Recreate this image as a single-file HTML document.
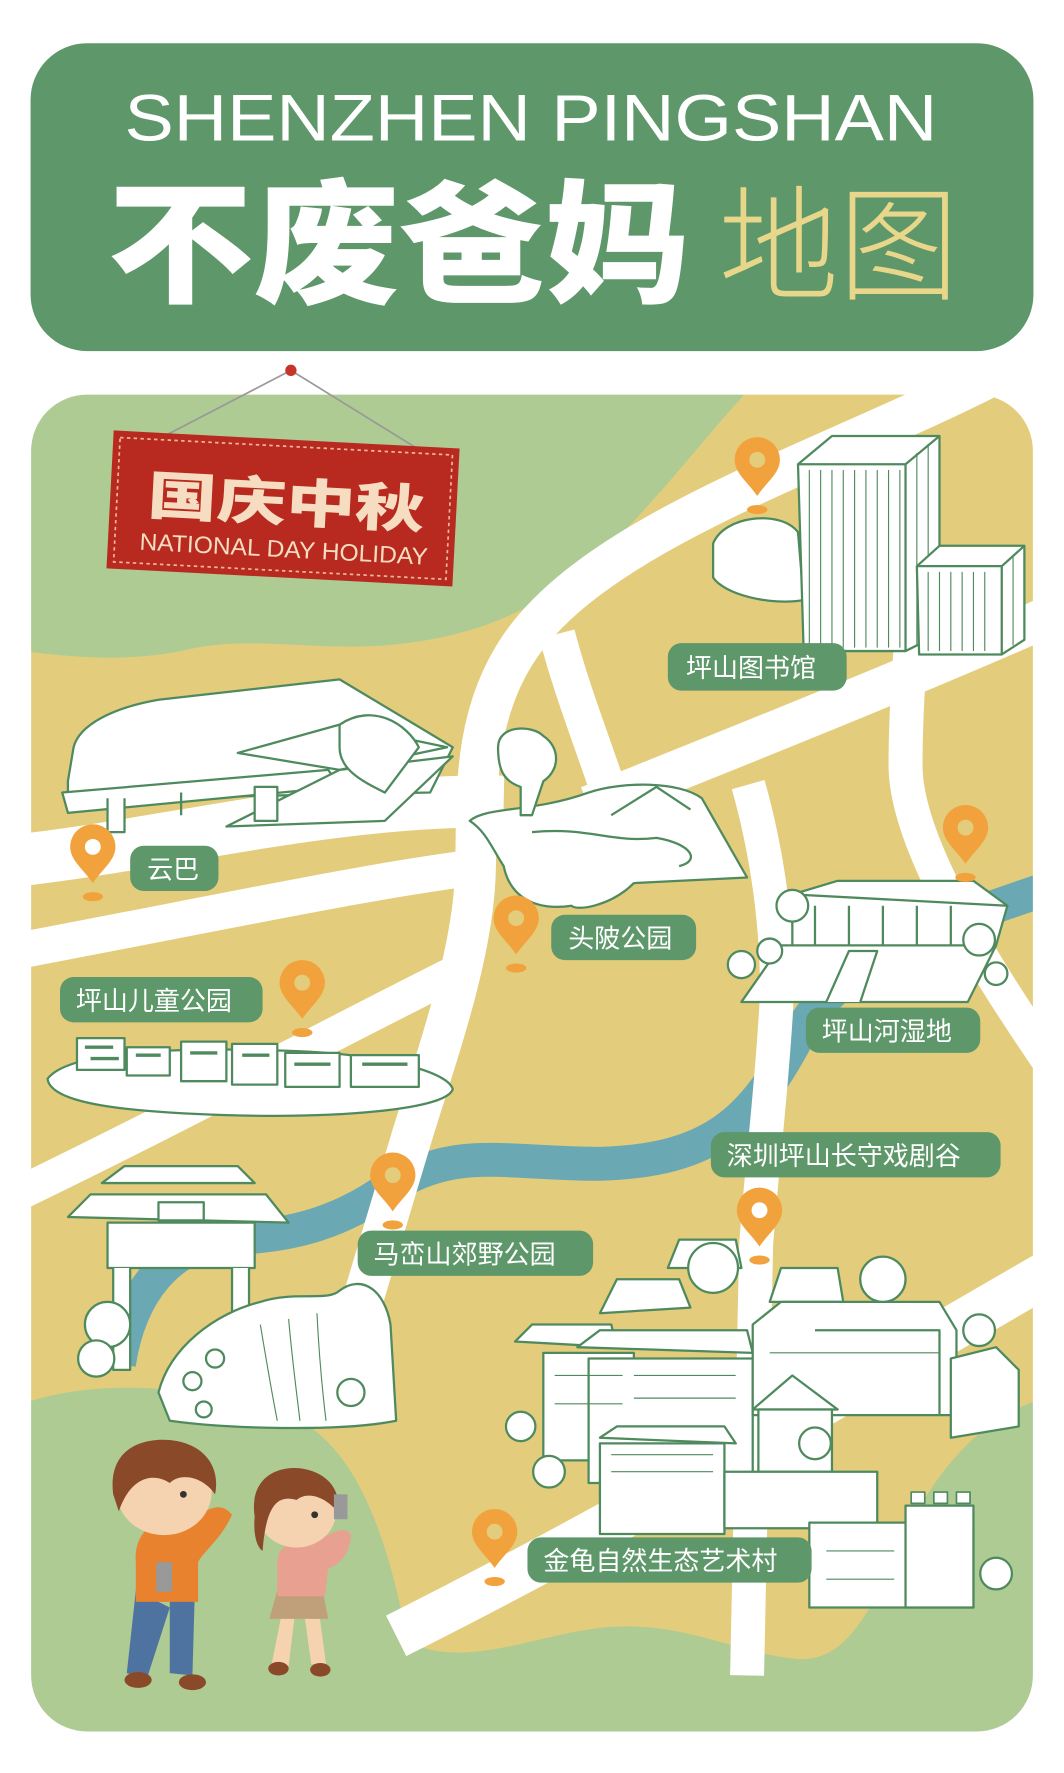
<!DOCTYPE html>
<html><head><meta charset="utf-8"><style>
html,body{margin:0;padding:0;background:#fff;}
svg{display:block;}
text{font-family:"Liberation Sans","Noto Sans CJK SC",sans-serif;}
</style></head><body>
<svg width="1064" height="1773" viewBox="0 0 940 1566" xmlns="http://www.w3.org/2000/svg">
<defs>
<clipPath id="panel"><rect x="27" y="348" width="886" height="1182" rx="50"/></clipPath>
</defs>
<rect width="940" height="1566" fill="#fff"/>
<!-- Header -->
<rect x="27" y="38" width="886" height="272" rx="50" fill="#5e976a"/>
<text x="110" y="124" font-size="58" fill="#fff" textLength="718" lengthAdjust="spacingAndGlyphs" style="font-weight:100">SHENZHEN  PINGSHAN</text>
<text x="95" y="258" font-size="118" fill="#fff" font-weight="900" textLength="515" lengthAdjust="spacingAndGlyphs" style="font-family:'Noto Sans CJK SC',sans-serif">不废爸妈</text>
<text x="635" y="256" font-size="110" fill="#e8d68a" textLength="212" lengthAdjust="spacingAndGlyphs" style="font-family:'Noto Sans CJK SC',sans-serif;font-weight:300">地图</text>

<!-- Map panel -->
<g clip-path="url(#panel)">
<rect x="27" y="348" width="886" height="1182" fill="#e3cd7c"/>
<!-- green areas -->
<path d="M20 340 L665 340 C610 400 560 470 500 515 C450 550 400 565 340 570 C270 575 220 560 160 575 C110 585 60 580 20 575 Z" fill="#aecb93"/>
<path d="M20 1240 C90 1215 190 1225 265 1255 C320 1285 345 1370 360 1450 C410 1475 470 1445 530 1438 C600 1430 650 1460 700 1465 C740 1470 760 1440 790 1380 C820 1300 870 1250 920 1236 L920 1540 L20 1540 Z" fill="#aecb93"/>
<path d="M20 1470 C200 1480 500 1470 920 1480 L920 1540 L20 1540 Z" fill="#aecb93"/>
<!-- river -->
<path d="M925 785 C820 820 740 850 705 915 C665 990 630 1025 530 1028 C440 1028 400 1010 335 1055 C285 1088 240 1092 200 1094 C150 1100 115 1140 105 1205" fill="none" stroke="#6aa8b3" stroke-width="30"/>
<!-- roads -->
<g fill="none" stroke="#fff" stroke-linecap="butt">
<path d="M870 335 C720 410 530 470 460 570 C415 635 422 710 420 770 C418 840 390 920 365 1000 L320 1150" stroke-width="36"/>
<path d="M15 760 C150 745 300 705 445 708" stroke-width="46"/>
<path d="M15 840 C200 805 340 775 430 765" stroke-width="32"/>
<path d="M15 1055 C150 990 300 910 400 860" stroke-width="30"/>
<path d="M492 560 C505 610 525 660 538 700" stroke-width="32"/>
<path d="M520 712 C650 660 800 600 925 545" stroke-width="36"/>
<path d="M661 693 C680 760 690 840 685 902 C680 980 672 1040 668 1100 L660 1480" stroke-width="30"/>
<path d="M808 520 C805 570 800 620 800 676 C800 740 860 840 925 935" stroke-width="30"/>
<path d="M925 1125 C760 1220 560 1340 350 1445" stroke-width="40"/>
</g>
</g>
<rect x="27" y="348" width="886" height="1182" rx="50" fill="none" stroke="#fff" stroke-width="1"/>

<!-- hanging sign -->
<line x1="257" y1="327" x2="130" y2="393" stroke="#999" stroke-width="1.5"/>
<line x1="257" y1="327" x2="375" y2="400" stroke="#999" stroke-width="1.5"/>
<circle cx="257" cy="327" r="5" fill="#c8332a"/>
<g transform="rotate(3 250 450)">
<rect x="97" y="388" width="306" height="122" fill="#b82a1f"/>
<rect x="103" y="394" width="294" height="110" fill="none" stroke="#f0b8a0" stroke-width="1.5" stroke-dasharray="3 3"/>
<text x="130" y="460" font-size="46" font-weight="900" fill="#f6dcc0" textLength="245" lengthAdjust="spacingAndGlyphs" style="font-family:'Noto Sans CJK SC',sans-serif">国庆中秋</text>
<text x="125" y="492" font-size="21" fill="#f6dcc0" textLength="255" lengthAdjust="spacingAndGlyphs">NATIONAL DAY HOLIDAY</text>
</g>

<!-- Illustrations (simplified line art) -->
<g fill="#fff" stroke="#4f8a5e" stroke-width="2" stroke-linejoin="round">
<!-- library -->
<path d="M630 480 C640 455 690 450 705 470 L710 530 C680 535 640 525 630 510 Z"/>
<path d="M705 410 L735 385 L830 385 L830 560 L800 575 L710 575 Z"/>
<path d="M705 410 L800 410 L800 575" fill="none"/>
<path d="M800 410 L830 385" fill="none"/>
<g stroke-width="1" fill="none">
<path d="M715 415 V572 M725 415 V572 M735 415 V572 M745 415 V572 M755 415 V572 M765 415 V572 M775 415 V572 M785 415 V572 M795 415 V572 M810 400 V570 M820 392 V565"/>
</g>
<path d="M810 500 L830 482 L905 482 L905 565 L885 578 L812 578 Z"/>
<path d="M810 500 L885 500 L885 578 M885 500 L905 482" fill="none"/>
<g stroke-width="1" fill="none"><path d="M820 505 V575 M830 505 V575 M840 505 V575 M850 505 V575 M860 505 V575 M870 505 V575 M895 492 V570"/></g>
<!-- monorail -->
<path d="M60 690 L65 660 C70 640 100 625 140 618 L300 600 L400 660 L380 700 L120 705 L60 705 Z"/>
<path d="M55 700 L290 680 L300 695 L60 718 Z"/>
<path d="M95 705 L95 735 L110 735 L110 705 M160 700 L160 720"/>
<path d="M210 665 L300 640 L395 660 L300 680 Z"/>
<path d="M200 730 L300 680 L400 668 L340 725 Z"/>
<path d="M225 695 H245 V725 H225 Z"/>
<path d="M300 640 C330 620 360 640 370 660 L340 700 C320 690 300 680 300 660 Z"/>
<!-- toupi park -->
<path d="M415 725 C430 712 470 718 520 700 C550 690 600 690 620 705 L660 775 L560 780 C540 800 510 805 505 800 C470 805 450 790 445 765 C435 750 430 735 415 725 Z"/>
<path d="M440 660 C440 640 470 640 480 650 C495 660 495 680 480 690 L470 720 L460 720 L460 695 C445 690 440 680 440 660 Z"/>
<path d="M470 735 C520 730 540 745 580 740 C610 745 620 760 600 765" fill="none"/>
<path d="M540 720 L580 695 L610 715" fill="none"/>
<!-- wetland building -->
<path d="M655 885 L690 835 L880 835 L855 885 Z"/>
<path d="M700 790 L740 778 L860 778 L890 800 L880 835 L700 835 Z"/>
<path d="M700 790 L890 800" fill="none"/>
<path d="M720 800 V835 M750 800 V835 M780 800 V835 M810 800 V835 M840 800 V835" fill="none"/>
<path d="M730 885 L750 840 L775 840 L760 885" />
<circle cx="700" cy="800" r="14"/><circle cx="655" cy="852" r="12"/><circle cx="680" cy="840" r="11"/><circle cx="865" cy="830" r="14"/><circle cx="880" cy="860" r="10"/>
<!-- children's park -->
<path d="M42 953 C60 928 160 925 250 928 C330 930 395 945 400 962 C395 980 300 988 200 985 C110 982 45 975 42 953 Z"/>
<path d="M68 917 H110 V945 H68 Z M112 925 H150 V950 H112 Z M160 920 H200 V955 H160 Z M205 922 H245 V958 H205 Z M252 930 H300 V960 H252 Z M310 932 H370 V960 H310 Z"/>
<path d="M75 925 H100 M80 935 H105 M120 932 H142 M168 930 H192 M214 932 H238 M260 940 H292 M320 940 H360" fill="none" stroke-width="3"/>
<!-- gate -->
<path d="M60 1075 L80 1055 L235 1055 L255 1080 Z"/>
<path d="M90 1045 L110 1030 L210 1030 L225 1045 Z"/>
<path d="M95 1080 H225 V1120 H95 Z"/>
<path d="M100 1120 V1210 H115 V1120 M205 1120 V1210 H220 V1120"/>
<rect x="140" y="1062" width="40" height="16" />
<circle cx="95" cy="1170" r="20"/><circle cx="85" cy="1200" r="16"/>
<!-- waterfall -->
<path d="M140 1230 C150 1190 190 1160 230 1150 C260 1140 290 1150 300 1140 C320 1125 340 1140 345 1170 L350 1255 C300 1265 200 1262 150 1255 Z"/>
<path d="M230 1170 C235 1200 240 1230 245 1255 M255 1165 C258 1200 262 1230 265 1255 M280 1160 C282 1200 285 1230 288 1255" fill="none" stroke-width="1"/>
<circle cx="170" cy="1220" r="8"/><circle cx="190" cy="1200" r="8"/><circle cx="310" cy="1230" r="12"/><circle cx="180" cy="1245" r="7"/>
<!-- village -->
<path d="M530 1160 L545 1130 L600 1130 L610 1155 Z M590 1120 L600 1095 L650 1095 L655 1120 Z M680 1150 L690 1120 L740 1120 L745 1150 Z"/>
<path d="M455 1185 L470 1170 L540 1170 L545 1190 Z"/>
<path d="M480 1195 H560 V1290 H480 Z"/>
<path d="M510 1190 L530 1175 L660 1175 L665 1195 Z"/>
<path d="M520 1200 H665 V1310 H520 Z"/>
<path d="M665 1170 L690 1150 L830 1150 L845 1175 L845 1250 L665 1250 Z"/>
<path d="M720 1175 H830 V1250"/>
<path d="M840 1200 L880 1190 L900 1210 L900 1260 L840 1270 Z"/>
<path d="M665 1245 L700 1215 L740 1245 Z"/>
<path d="M670 1245 H735 V1300 H670 Z"/>
<path d="M530 1270 L545 1260 L640 1260 L650 1275 Z"/>
<path d="M530 1275 H640 V1355 H530 Z"/>
<path d="M640 1300 H775 V1350 H640 Z"/>
<path d="M715 1345 H860 V1420 H715 Z"/>
<path d="M800 1330 H860 V1420 H800 Z"/>
<path d="M805 1318 h12 v10 h-12 z M825 1318 h12 v10 h-12 z M845 1318 h12 v10 h-12 z" stroke-width="1.5"/>
<path d="M540 1285 H630 M540 1300 H630 M560 1215 H650 M560 1235 H650 M490 1215 H550 M490 1240 H550 M680 1195 H830 M730 1370 H790 M730 1395 H790" fill="none" stroke-width="1"/>
<circle cx="630" cy="1120" r="22"/><circle cx="780" cy="1130" r="20"/><circle cx="460" cy="1260" r="13"/><circle cx="485" cy="1300" r="14"/><circle cx="720" cy="1275" r="14"/><circle cx="880" cy="1390" r="14"/><circle cx="865" cy="1175" r="14"/>
</g>

<!-- Kids -->
<g>
<!-- boy -->
<path d="M120 1405 L112 1478 L130 1482 L150 1420 Z" fill="#4f73a0"/>
<path d="M150 1405 L150 1478 L170 1480 L172 1410 Z" fill="#4f73a0"/>
<ellipse cx="122" cy="1484" rx="12" ry="7" fill="#8a4a2a"/><ellipse cx="170" cy="1486" rx="12" ry="7" fill="#8a4a2a"/>
<path d="M120 1380 C118 1355 135 1340 160 1340 C175 1345 190 1320 205 1338 C195 1360 180 1370 175 1380 L175 1415 L120 1415 Z" fill="#e8822e"/>
<rect x="138" y="1380" width="14" height="26" fill="#999"/>
<ellipse cx="145" cy="1318" rx="42" ry="38" fill="#f6d3b0"/>
<path d="M100 1320 C95 1280 125 1270 150 1272 C180 1275 195 1295 190 1320 C180 1305 160 1300 150 1310 C135 1300 115 1305 105 1335 Z" fill="#8a4a2a"/>
<circle cx="162" cy="1320" r="3" fill="#333"/>
<!-- girl -->
<path d="M250 1420 L240 1470 L255 1472 L260 1430 Z M268 1420 L275 1470 L288 1470 L282 1425 Z" fill="#f6d3b0"/>
<ellipse cx="246" cy="1474" rx="9" ry="6" fill="#8a4a2a"/><ellipse cx="283" cy="1475" rx="9" ry="6" fill="#8a4a2a"/>
<path d="M245 1405 L238 1430 L290 1430 L285 1405 Z" fill="#c0a07a"/>
<path d="M245 1380 C245 1365 260 1360 275 1360 C290 1360 300 1345 310 1355 C310 1375 295 1385 290 1385 L287 1410 L245 1410 Z" fill="#e8a090"/>
<ellipse cx="262" cy="1335" rx="35" ry="32" fill="#f6d3b0"/>
<path d="M225 1340 C220 1305 245 1295 265 1297 C290 1300 302 1318 298 1335 C285 1320 270 1318 262 1325 C245 1320 235 1330 232 1370 C225 1365 224 1350 225 1340 Z" fill="#8a4a2a"/>
<rect x="295" y="1320" width="12" height="22" fill="#999"/>
<circle cx="278" cy="1338" r="3" fill="#333"/>
</g>

<!-- Pins -->
<g fill="#f2a23c">
<g transform="translate(669,410)"><path d="M0 28 C-8 16 -20 8 -20 -4 A20 20 0 1 1 20 -4 C20 8 8 16 0 28 Z"/><circle cx="0" cy="-4" r="7" fill="#e3cd7c"/><ellipse cx="0" cy="40" rx="9" ry="4"/></g>
<g transform="translate(82,752)"><path d="M0 28 C-8 16 -20 8 -20 -4 A20 20 0 1 1 20 -4 C20 8 8 16 0 28 Z"/><circle cx="0" cy="-4" r="7" fill="#fff"/><ellipse cx="0" cy="40" rx="9" ry="4"/></g>
<g transform="translate(456,815)"><path d="M0 28 C-8 16 -20 8 -20 -4 A20 20 0 1 1 20 -4 C20 8 8 16 0 28 Z"/><circle cx="0" cy="-4" r="7" fill="#e3cd7c"/><ellipse cx="0" cy="40" rx="9" ry="4"/></g>
<g transform="translate(267,872)"><path d="M0 28 C-8 16 -20 8 -20 -4 A20 20 0 1 1 20 -4 C20 8 8 16 0 28 Z"/><circle cx="0" cy="-4" r="7" fill="#e3cd7c"/><ellipse cx="0" cy="40" rx="9" ry="4"/></g>
<g transform="translate(853,735)"><path d="M0 28 C-8 16 -20 8 -20 -4 A20 20 0 1 1 20 -4 C20 8 8 16 0 28 Z"/><circle cx="0" cy="-4" r="7" fill="#e3cd7c"/><ellipse cx="0" cy="40" rx="9" ry="4"/></g>
<g transform="translate(347,1042)"><path d="M0 28 C-8 16 -20 8 -20 -4 A20 20 0 1 1 20 -4 C20 8 8 16 0 28 Z"/><circle cx="0" cy="-4" r="7" fill="#e3cd7c"/><ellipse cx="0" cy="40" rx="9" ry="4"/></g>
<g transform="translate(671,1073)"><path d="M0 28 C-8 16 -20 8 -20 -4 A20 20 0 1 1 20 -4 C20 8 8 16 0 28 Z"/><circle cx="0" cy="-4" r="7" fill="#fff"/><ellipse cx="0" cy="40" rx="9" ry="4"/></g>
<g transform="translate(437,1357)"><path d="M0 28 C-8 16 -20 8 -20 -4 A20 20 0 1 1 20 -4 C20 8 8 16 0 28 Z"/><circle cx="0" cy="-4" r="7" fill="#e3cd7c"/><ellipse cx="0" cy="40" rx="9" ry="4"/></g>
</g>

<!-- Labels -->
<g fill="#5e976a">
<rect x="590" y="568" width="158" height="42" rx="12"/>
<rect x="115" y="747" width="78" height="40" rx="12"/>
<rect x="487" y="808" width="128" height="40" rx="12"/>
<rect x="53" y="863" width="179" height="40" rx="12"/>
<rect x="712" y="890" width="154" height="40" rx="12"/>
<rect x="628" y="1000" width="256" height="40" rx="12"/>
<rect x="316" y="1087" width="208" height="40" rx="12"/>
<rect x="466" y="1358" width="251" height="40" rx="12"/>
</g>
<g fill="#fff" font-size="23" style="font-family:'Noto Sans CJK SC',sans-serif">
<text x="606" y="598">坪山图书馆</text>
<text x="130" y="776">云巴</text>
<text x="502" y="837">头陂公园</text>
<text x="67" y="892">坪山儿童公园</text>
<text x="726" y="919">坪山河湿地</text>
<text x="642" y="1029">深圳坪山长守戏剧谷</text>
<text x="330" y="1116">马峦山郊野公园</text>
<text x="480" y="1387">金龟自然生态艺术村</text>
</g>
</svg>
</body></html>
